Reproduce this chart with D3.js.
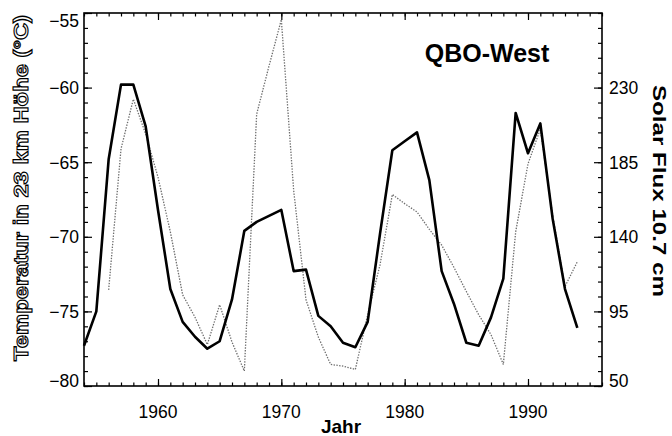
<!DOCTYPE html>
<html>
<head>
<meta charset="utf-8">
<script src="https://cdn.jsdelivr.net/npm/d3@7"></script>
<style>
  html, body { margin: 0; padding: 0; background: #fff; }
  svg { display: block; }
</style>
</head>
<body>
<svg id="chart" width="672" height="436"></svg>
<script>
// Winter years (x axis)
const tempYears = [1954, 1955, 1956, 1957, 1958, 1959, 1960, 1961, 1962, 1963,
  1964, 1965, 1966, 1967, 1968, 1969, 1970, 1971, 1972, 1973,
  1974, 1975, 1976, 1977, 1978, 1979, 1980, 1981, 1982, 1983,
  1984, 1985, 1986, 1987, 1988, 1989, 1990, 1991, 1992, 1993, 1994];

// Stratospheric temperature at 23 km, °C (thick solid line)
const temperature = [-77.3, -75.0, -64.8, -59.8, -59.8, -62.6, -68.2, -73.5, -75.7, -76.7,
  -77.5, -77.0, -74.2, -69.6, -69.0, -68.6, -68.2, -72.3, -72.2, -75.3,
  -76.0, -77.1, -77.4, -75.7, -69.8, -64.2, -63.6, -63.0, -66.2, -72.3,
  -74.5, -77.1, -77.3, -75.4, -72.8, -61.7, -64.4, -62.4, -68.8, -73.5, -76.1];

const fluxYears = [1956, 1957, 1958, 1959, 1960, 1961, 1962, 1963, 1964, 1965,
  1966, 1967, 1968, 1969, 1970, 1971, 1972, 1973, 1974, 1975,
  1976, 1977, 1978, 1979, 1980, 1981, 1982, 1983, 1984, 1985,
  1986, 1987, 1988, 1989, 1990, 1991, 1992, 1993, 1994];

// 10.7 cm solar flux (thin dotted line)
const solarFlux = [108, 193, 223, 202, 176, 143, 105, 91.5, 75, 99,
  76.5, 59, 214, 243, 271, 168, 102, 79.5, 63, 62,
  60, 93, 123, 165.5, 160, 155, 144.5, 135, 121.5, 107,
  93, 81, 63, 143, 184, 205, 153, 110, 125];

// Axis ticks
const yearTicks = [1960, 1970, 1980, 1990];
const tempTicks = [-55, -60, -65, -70, -75, -80];
const fluxTicks = [50, 95, 140, 185, 230];

const svg = d3.select("#chart");
const L = 84, R = 602, T = 13, B = 386;

const x = d3.scaleLinear().domain([1954, 1996]).range([L, R]);
const yT = d3.scaleLinear().domain([-80, -55]).range([B, T]);
const yS = d3.scaleLinear().domain([50, 275]).range([B, T]);

const labelFont = "'Liberation Sans', Arial, Helvetica, sans-serif";

function styleAxis(g) {
  g.select(".domain").remove();
  g.selectAll(".tick line").attr("stroke", "#000").attr("stroke-width", 1.2);
  g.selectAll(".tick text").remove();
}

// minor + major ticks on all four sides, pointing inward
const minorYears = d3.range(1954, 1997);
svg.append("g").attr("transform", `translate(0,${B})`)
  .call(d3.axisTop(x).tickValues(minorYears).tickSize(3.5)).call(styleAxis);
svg.append("g").attr("transform", `translate(0,${B})`)
  .call(d3.axisTop(x).tickValues(yearTicks).tickSize(7)).call(styleAxis);
svg.append("g").attr("transform", `translate(0,${T})`)
  .call(d3.axisBottom(x).tickValues(minorYears).tickSize(3.5)).call(styleAxis);
svg.append("g").attr("transform", `translate(0,${T})`)
  .call(d3.axisBottom(x).tickValues(yearTicks).tickSize(7)).call(styleAxis);

svg.append("g").attr("transform", `translate(${L},0)`)
  .call(d3.axisRight(yT).tickValues(d3.range(-80, -54, 1)).tickSize(4)).call(styleAxis);
svg.append("g").attr("transform", `translate(${L},0)`)
  .call(d3.axisRight(yT).tickValues(tempTicks).tickSize(8)).call(styleAxis);

svg.append("g").attr("transform", `translate(${R},0)`)
  .call(d3.axisLeft(yS).tickValues(d3.range(50, 276, 9)).tickSize(4)).call(styleAxis);
svg.append("g").attr("transform", `translate(${R},0)`)
  .call(d3.axisLeft(yS).tickValues(fluxTicks).tickSize(8)).call(styleAxis);

// frame
svg.append("rect")
  .attr("x", L).attr("y", T).attr("width", R - L).attr("height", B - T)
  .attr("fill", "none").attr("stroke", "#000").attr("stroke-width", 1.6);

// tick labels
svg.append("g").selectAll("text").data(yearTicks).join("text")
  .attr("x", d => x(d)).attr("y", 418)
  .attr("text-anchor", "middle")
  .attr("font-family", labelFont).attr("font-size", 17.5)
  .text(d => d);

svg.append("g").selectAll("text").data(tempTicks).join("text")
  .attr("x", L - 5)
  .attr("y", d => yT(d) + (d === -55 ? 14 : d === -80 ? 1 : 6.5))
  .attr("text-anchor", "end")
  .attr("font-family", labelFont).attr("font-size", 17.5)
  .text(d => "\u2212" + Math.abs(d));

svg.append("g").selectAll("text").data(fluxTicks).join("text")
  .attr("x", R + 7)
  .attr("y", d => yS(d) + (d === 50 ? 1 : 6.5))
  .attr("text-anchor", "start")
  .attr("font-family", labelFont).attr("font-size", 17.5)
  .text(d => d);

// series
const fluxLine = d3.line().x((d, i) => x(fluxYears[i])).y(d => yS(d));
svg.append("path").datum(solarFlux)
  .attr("d", fluxLine)
  .attr("fill", "none").attr("stroke", "#6e6e6e")
  .attr("stroke-width", 1.3).attr("stroke-dasharray", "1.4 1.4");

const tempLine = d3.line().x((d, i) => x(tempYears[i])).y(d => yT(d));
svg.append("path").datum(temperature)
  .attr("d", tempLine)
  .attr("fill", "none").attr("stroke", "#000")
  .attr("stroke-width", 2.6).attr("stroke-linejoin", "round");

// titles
svg.append("text")
  .attr("x", 487).attr("y", 62).attr("text-anchor", "middle")
  .attr("font-family", labelFont).attr("font-weight", "bold").attr("font-size", 25)
  .text("QBO-West");

svg.append("text")
  .attr("x", 341).attr("y", 433).attr("text-anchor", "middle")
  .attr("font-family", labelFont).attr("font-weight", "bold").attr("font-size", 19)
  .text("Jahr");

// hollow (outlined) left axis title
svg.append("text")
  .attr("transform", "translate(28,188) rotate(-90)")
  .attr("text-anchor", "middle")
  .attr("font-family", labelFont).attr("font-weight", "bold").attr("font-size", 20)
  .attr("textLength", 346).attr("lengthAdjust", "spacingAndGlyphs")
  .attr("fill", "#fff").attr("stroke", "#000").attr("stroke-width", 1.1)
  .text("Temperatur in 23 km Höhe (°C)");

svg.append("text")
  .attr("transform", "translate(653,191) rotate(90)")
  .attr("text-anchor", "middle")
  .attr("font-family", labelFont).attr("font-weight", "bold").attr("font-size", 19)
  .attr("textLength", 212).attr("lengthAdjust", "spacingAndGlyphs")
  .text("Solar Flux 10.7 cm");
</script>
</body>
</html>
